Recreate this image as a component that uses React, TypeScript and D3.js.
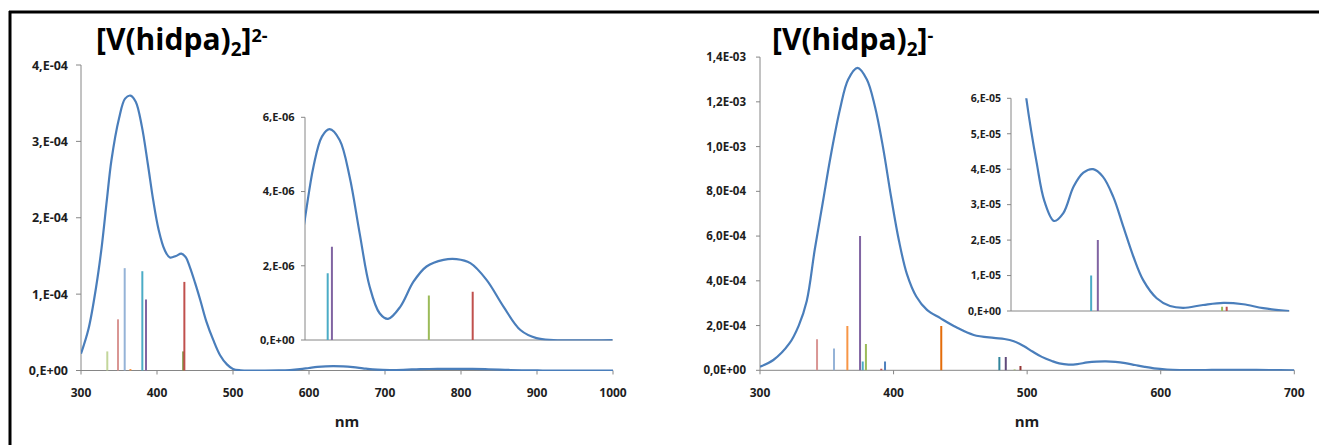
import React from 'react';
import * as d3 from 'd3';

const FONT = "'Open Sans', Lato, sans-serif";

type Pt = [number, number];

// [V(hidpa)2]2- : smoothed spectrum (nm, value)
const dianionSpectrum: Pt[] = [
  [300, 0.22e-4], [310, 0.55e-4], [320, 1.1e-4], [327, 1.6e-4], [334, 2.23e-4],
  [340, 2.75e-4], [350, 3.3e-4], [358, 3.56e-4], [365, 3.6e-4], [372, 3.52e-4],
  [380, 3.2e-4], [388, 2.7e-4], [395, 2.23e-4], [402, 1.85e-4], [410, 1.58e-4],
  [417, 1.48e-4], [425, 1.5e-4], [432, 1.53e-4], [438, 1.48e-4], [443, 1.36e-4],
  [450, 1.15e-4], [457, 0.92e-4], [465, 0.64e-4], [474, 0.4e-4], [483, 0.2e-4],
  [492, 0.08e-4], [500, 0.02e-4], [510, 0.003e-4], [530, 0], [560, 0.1e-6],
  [575, 0.6e-6], [588, 1.7e-6], [600, 3.28e-6], [611, 4.67e-6], [622, 5.48e-6],
  [632, 5.68e-6], [645, 5.39e-6], [658, 4.4e-6], [671, 2.88e-6], [684, 1.44e-6],
  [697, 0.72e-6], [708, 0.57e-6], [724, 0.9e-6], [741, 1.57e-6], [758, 1.98e-6],
  [780, 2.16e-6], [797, 2.18e-6], [815, 2.07e-6], [836, 1.62e-6], [858, 0.9e-6],
  [880, 0.27e-6], [901, 0.05e-6], [923, 0], [1000, 0],
];
const dianionSticks: Pt[] = [
  [334.6, 0.25e-4], [348.7, 0.67e-4], [357.5, 1.34e-4], [365, 0.02e-4],
  [380.7, 1.3e-4], [385.5, 0.93e-4], [434.5, 0.25e-4], [436, 1.16e-4],
];
const dianionStickColors = ['#c3d69b', '#d99694', '#95b3d7', '#f79646', '#4bacc6', '#8064a2', '#77933c', '#c0504d'];
const dianionInsetSticks: Pt[] = [[629.5, 1.8e-6], [635, 2.51e-6], [761, 1.2e-6], [818, 1.3e-6]];
const dianionInsetColors = ['#4bacc6', '#8064a2', '#9bbb59', '#c0504d'];

// [V(hidpa)2]- : smoothed spectrum (nm, value)
const anionSpectrum: Pt[] = [
  [300, 0.016e-3], [310, 0.046e-3], [322, 0.12e-3], [329, 0.2e-3], [335, 0.31e-3], [341, 0.54e-3],
  [347, 0.75e-3], [353, 0.96e-3], [360, 1.17e-3], [366, 1.3e-3], [373, 1.352e-3],
  [380, 1.3e-3], [386, 1.18e-3], [392, 1.0e-3], [398, 0.78e-3], [404, 0.58e-3],
  [410, 0.43e-3], [417, 0.33e-3], [425, 0.27e-3], [435, 0.233e-3], [447, 0.192e-3],
  [460, 0.158e-3], [475, 0.145e-3], [483, 0.14e-3], [490, 0.13e-3], [497, 0.11e-3],
  [504, 0.084e-3], [511, 0.06e-3], [518.5, 0.0417e-3], [524, 0.031e-3],
  [531, 0.0254e-3], [537.6, 0.0276e-3], [545, 0.0351e-3], [552, 0.039e-3], [559, 0.04e-3],
  [566, 0.0379e-3], [573.5, 0.0322e-3], [580.7, 0.0238e-3], [588, 0.0153e-3], [595, 0.0087e-3],
  [604.7, 0.0036e-3], [614.3, 0.0014e-3], [623.8, 0.0009e-3], [638, 0.0017e-3], [652.6, 0.0023e-3],
  [667, 0.0019e-3], [681.3, 0.0008e-3], [700, 0],
];
const anionSticks: Pt[] = [
  [342.7, 0.139e-3], [355.4, 0.098e-3], [365.4, 0.198e-3], [374.9, 0.6e-3],
  [376.9, 0.039e-3], [379.3, 0.118e-3], [390.8, 0.007e-3], [393.6, 0.039e-3],
  [435.7, 0.198e-3], [479.2, 0.06e-3], [484, 0.06e-3], [490.6, 0.004e-3], [495, 0.019e-3],
];
const anionStickColors = [
  '#d99694', '#95b3d7', '#f79646', '#8064a2', '#4bacc6', '#9bbb59', '#c0504d',
  '#4f81bd', '#e46c0a', '#31859c', '#604a7b', '#9bbb59', '#953735',
];
const anionInsetSticks: Pt[] = [[557.6, 1e-5], [562.4, 2e-5], [651.7, 1.2e-6], [655, 1.2e-6]];
const anionInsetColors = ['#4bacc6', '#8064a2', '#9bbb59', '#c0504d'];

// tick values and labels
const dianionXTicks = [300, 400, 500, 600, 700, 800, 900, 1000];
const dianionYTicks = [0, 1e-4, 2e-4, 3e-4, 4e-4];
const dianionYLabels = ['0,E+00', '1,E-04', '2,E-04', '3,E-04', '4,E-04'];
const dianionInsetYTicks = [0, 2e-6, 4e-6, 6e-6];
const dianionInsetYLabels = ['0,E+00', '2,E-06', '4,E-06', '6,E-06'];

const anionXTicks = [300, 400, 500, 600, 700];
const anionYTicks = [0, 2e-4, 4e-4, 6e-4, 8e-4, 1e-3, 1.2e-3, 1.4e-3];
const anionYLabels = ['0,0E+00', '2,0E-04', '4,0E-04', '6,0E-04', '8,0E-04', '1,0E-03', '1,2E-03', '1,4E-03'];
const anionInsetYTicks = [0, 1e-5, 2e-5, 3e-5, 4e-5, 5e-5, 6e-5];
const anionInsetYLabels = ['0,E+00', '1,E-05', '2,E-05', '3,E-05', '4,E-05', '5,E-05', '6,E-05'];

const AXIS = '#868686';
const CURVE = '#4a7ebb';
const LABEL = '#1e1e1e';

interface PanelProps {
  id: string;
  spectrum: Pt[];
  sticks: Pt[];
  stickColors: string[];
  xDomain: [number, number];
  yDomain: [number, number];
  left: number; right: number; top: number; bottom: number;
  xTicks?: number[];
  yTicks: number[];
  yLabels: string[];
  tickLen: number;
  labelGap: number;
  labelSize: number;
}

function Panel(props: PanelProps) {
  const { id, spectrum, sticks, stickColors, xDomain, yDomain, left, right, top, bottom,
    xTicks, yTicks, yLabels, tickLen, labelGap, labelSize } = props;
  const x = d3.scaleLinear().domain(xDomain).range([left, right]);
  const y = d3.scaleLinear().domain(yDomain).range([bottom, top]);
  const line = d3.line<Pt>().x(d => x(d[0])).y(d => y(d[1])).curve(d3.curveCatmullRom.alpha(0.5));

  return (
    <g>
      <defs>
        <clipPath id={id}>
          <rect x={left} y={top} width={right - left} height={bottom - top + 0.5} />
        </clipPath>
      </defs>
      <line x1={left} x2={left} y1={top} y2={bottom} stroke={AXIS} strokeWidth={1} />
      <line x1={left} x2={right} y1={bottom} y2={bottom} stroke={AXIS} strokeWidth={1} />
      {yTicks.map((t, i) => (
        <g key={'y' + i}>
          <line x1={left - tickLen} x2={left} y1={y(t)} y2={y(t)} stroke={AXIS} strokeWidth={1} />
          <text x={left - labelGap} y={y(t)} dy="0.36em" textAnchor="end"
            fontFamily={FONT} fontWeight={700} fontSize={labelSize} fill={LABEL}>{yLabels[i]}</text>
        </g>
      ))}
      {xTicks && xTicks.map((t, i) => (
        <g key={'x' + i}>
          <line x1={x(t)} x2={x(t)} y1={bottom} y2={bottom + 4} stroke={AXIS} strokeWidth={1} />
          <text x={x(t)} y={397} textAnchor="middle"
            fontFamily={FONT} fontWeight={700} fontSize={12} fill={LABEL}>{t}</text>
        </g>
      ))}
      <g clipPath={`url(#${id})`}>
        {sticks.map((s, i) => (
          <line key={i} x1={x(s[0])} x2={x(s[0])} y1={y(0)} y2={y(s[1])}
            stroke={stickColors[i]} strokeWidth={2} />
        ))}
        <path d={line(spectrum) || ''} fill="none" stroke={CURVE} strokeWidth={2.2} />
      </g>
    </g>
  );
}

export default function App() {
  return (
    <svg width={1319} height={445} style={{ position: 'absolute', left: 0, top: 0, background: '#fff' }}>
      <line x1={9} x2={1319} y1={12} y2={12} stroke="#000" strokeWidth={3} />
      <line x1={10} x2={10} y1={11} y2={445} stroke="#000" strokeWidth={3} />

      {/* left chart */}
      <text x={96} y={50} fontFamily={FONT} fontWeight={700} fontSize={30} fill="#000">
        [V(hidpa)<tspan dy={6} fontSize={19}>2</tspan><tspan dy={-6}>]</tspan>
        <tspan dy={-8} fontSize={18}>2-</tspan>
      </text>
      <Panel id="c1" spectrum={dianionSpectrum} sticks={dianionSticks} stickColors={dianionStickColors}
        xDomain={[300, 1000]} yDomain={[0, 4e-4]} left={81} right={613} top={65} bottom={370.5}
        xTicks={dianionXTicks} yTicks={dianionYTicks} yLabels={dianionYLabels}
        tickLen={5} labelGap={13} labelSize={12.5} />
      <Panel id="c2" spectrum={dianionSpectrum} sticks={dianionInsetSticks} stickColors={dianionInsetColors}
        xDomain={[600, 1000]} yDomain={[0, 6e-6]} left={305} right={612.7} top={117.3} bottom={340}
        yTicks={dianionInsetYTicks} yLabels={dianionInsetYLabels}
        tickLen={4} labelGap={10.5} labelSize={11} />
      <text x={347} y={427} textAnchor="middle" fontFamily={FONT} fontWeight={700} fontSize={15} fill={LABEL}>nm</text>

      {/* right chart */}
      <text x={772} y={50} fontFamily={FONT} fontWeight={700} fontSize={30} fill="#000">
        [V(hidpa)<tspan dy={6} fontSize={19}>2</tspan><tspan dy={-6}>]</tspan>
        <tspan dy={-8} fontSize={18}>-</tspan>
      </text>
      <Panel id="c3" spectrum={anionSpectrum} sticks={anionSticks} stickColors={anionStickColors}
        xDomain={[300, 700]} yDomain={[0, 1.4e-3]} left={760} right={1294.3} top={57.1} bottom={370.3}
        xTicks={anionXTicks} yTicks={anionYTicks} yLabels={anionYLabels}
        tickLen={4} labelGap={14} labelSize={11.5} />
      <Panel id="c4" spectrum={anionSpectrum} sticks={anionInsetSticks} stickColors={anionInsetColors}
        xDomain={[500, 700]} yDomain={[0, 6e-5]} left={1011} right={1289.3} top={98.3} bottom={311}
        yTicks={anionInsetYTicks} yLabels={anionInsetYLabels}
        tickLen={4} labelGap={10} labelSize={10.5} />
      <text x={1027} y={427} textAnchor="middle" fontFamily={FONT} fontWeight={700} fontSize={15} fill={LABEL}>nm</text>
    </svg>
  );
}
